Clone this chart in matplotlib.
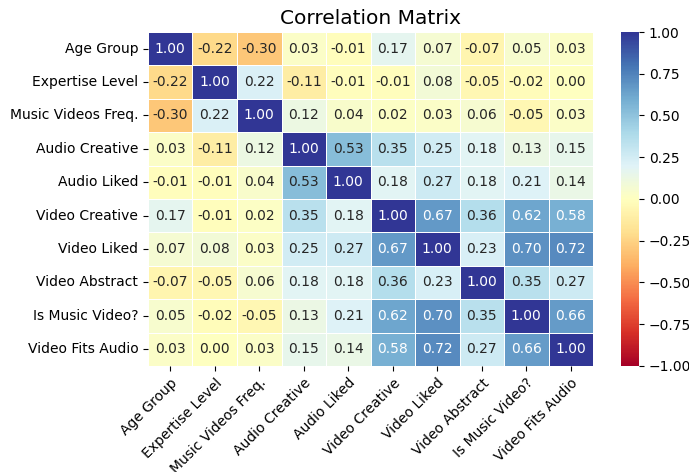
import matplotlib
matplotlib.use("Agg")
import matplotlib.pyplot as plt
import numpy as np
import pandas as pd
import seaborn as sns

labels = ["Age Group", "Expertise Level", "Music Videos Freq.", "Audio Creative",
          "Audio Liked", "Video Creative", "Video Liked", "Video Abstract",
          "Is Music Video?", "Video Fits Audio"]

row_age = [1.00, -0.22, -0.30, 0.03, -0.01, 0.17, 0.07, -0.07, 0.05, 0.03]
row_expertise = [-0.22, 1.00, 0.22, -0.11, -0.01, -0.01, 0.08, -0.05, -0.02, 0.00]
row_mv_freq = [-0.30, 0.22, 1.00, 0.12, 0.04, 0.02, 0.03, 0.06, -0.05, 0.03]
row_audio_creative = [0.03, -0.11, 0.12, 1.00, 0.53, 0.35, 0.25, 0.18, 0.13, 0.15]
row_audio_liked = [-0.01, -0.01, 0.04, 0.53, 1.00, 0.18, 0.27, 0.18, 0.21, 0.14]
row_video_creative = [0.17, -0.01, 0.02, 0.35, 0.18, 1.00, 0.67, 0.36, 0.62, 0.58]
row_video_liked = [0.07, 0.08, 0.03, 0.25, 0.27, 0.67, 1.00, 0.23, 0.70, 0.72]
row_video_abstract = [-0.07, -0.05, 0.06, 0.18, 0.18, 0.36, 0.23, 1.00, 0.35, 0.27]
row_is_mv = [0.05, -0.02, -0.05, 0.13, 0.21, 0.62, 0.70, 0.35, 1.00, 0.66]
row_fits = [0.03, 0.00, 0.03, 0.15, 0.14, 0.58, 0.72, 0.27, 0.66, 1.00]

corr = pd.DataFrame([row_age, row_expertise, row_mv_freq, row_audio_creative,
                     row_audio_liked, row_video_creative, row_video_liked,
                     row_video_abstract, row_is_mv, row_fits],
                    index=labels, columns=labels)

fig = plt.figure(figsize=(6.89, 4.72), dpi=100)
ax = fig.add_axes([0.2148, 0.2246, 0.6459, 0.7076])
cax = fig.add_axes([0.9013, 0.2246, 0.0261, 0.7076])

sns.heatmap(corr, ax=ax, cbar_ax=cax, cmap="RdYlBu", vmin=-1, vmax=1,
            annot=True, fmt=".2f", linewidths=0.5, linecolor="white",
            annot_kws={"fontsize": 10})

ax.set_title("Correlation Matrix", fontsize=14.5)
ax.set_xticklabels(ax.get_xticklabels(), rotation=45, ha="right", va="top",
                   rotation_mode="anchor", fontsize=10)
ax.set_yticklabels(ax.get_yticklabels(), rotation=0, fontsize=10)
cax.tick_params(labelsize=10)
cax.set_yticks([-1, -0.75, -0.5, -0.25, 0, 0.25, 0.5, 0.75, 1])
cax.set_yticklabels(["−1.00", "−0.75", "−0.50", "−0.25", "0.00", "0.25", "0.50", "0.75", "1.00"])

fig.savefig("out.png", dpi=100)
